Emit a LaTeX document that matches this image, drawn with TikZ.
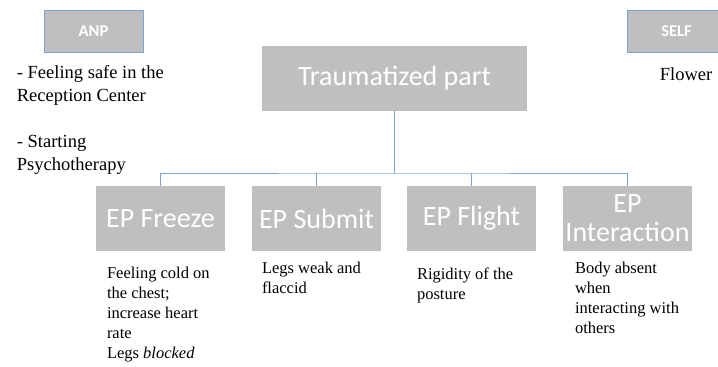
\documentclass[tikz,border=0pt]{standalone}
\usepackage{fontspec}
\setmainfont{Liberation Serif}
\newfontfamily\boxfont{Carlito}
\usetikzlibrary{positioning}
\definecolor{boxgray}{HTML}{BFBFBF}
\definecolor{linkblue}{HTML}{7DA4D3}

\begin{document}
\begin{tikzpicture}[x=1pt, y=-1pt,
    part/.style={fill=boxgray, text=white, inner sep=0pt, align=center,
        font=\boxfont\fontsize{28}{29}\selectfont},
    ep/.style={part, minimum width=129pt, minimum height=65pt},
    tag/.style={fill=boxgray, draw=linkblue, line width=0.6pt, text=white,
        inner sep=0pt, minimum width=99pt, minimum height=42pt,
        font=\boxfont\bfseries\fontsize{16.5}{18}\selectfont},
    note/.style={inner sep=0pt, align=left, anchor=north west,
        font=\fontsize{16.5}{20}\selectfont},
    link/.style={draw=linkblue, line width=0.7pt}]
    \clip (0,0) rectangle (718,367);

    \node[tag] (anp) at (93.5,31) {ANP};
    \node[tag] (self) at (676.5,31) {SELF};
    \node[part, minimum width=265pt, minimum height=65pt] (trauma) at (394.5,78.5) {Traumatized part};

    \node[ep] (freeze) at (160.5,218.5) {EP Freeze};
    \node[ep] (submit) at (316.5,218.5) {EP Submit};
    \node[ep] (flight) at (471.5,218.5) {EP Flight};
    \node[ep] (interact) at (627.5,218.5) {EP\\Interaction};

    % tree lines
    \coordinate (bus) at (394.5,173);
    \draw[link] (trauma.south) -- (bus);
    \draw[link] (freeze.north) |- (bus) -| (interact.north);
    \draw[link] (submit.north) -- (submit.north |- bus);
    \draw[link] (flight.north) -- (flight.north |- bus);

    % texts
    \node[note, font=\fontsize{18.5}{23}\selectfont, below right=13pt and -27pt of anp.south west] (anptext)
        {- Feeling safe in the\\Reception Center\\[23pt]- Starting\\Psychotherapy};
    \node[note, font=\fontsize{18.5}{23}\selectfont, below right=15pt and 33pt of self.south west] (selftext) {Flower};

    \node[note, below right=16pt and 11pt of freeze.south west] (freezetext)
        {Feeling cold on\\the chest;\\increase heart\\rate\\Legs \textit{blocked}};
    \node[note, below right=11pt and 10pt of submit.south west] (submittext)
        {Legs weak and\\flaccid};
    \node[note, below right=16pt and 10pt of flight.south west] (flighttext)
        {Rigidity of the\\posture};
    \node[note, below right=11pt and 12pt of interact.south west] (interacttext)
        {Body absent\\when\\interacting with\\others};
\end{tikzpicture}
\end{document}
